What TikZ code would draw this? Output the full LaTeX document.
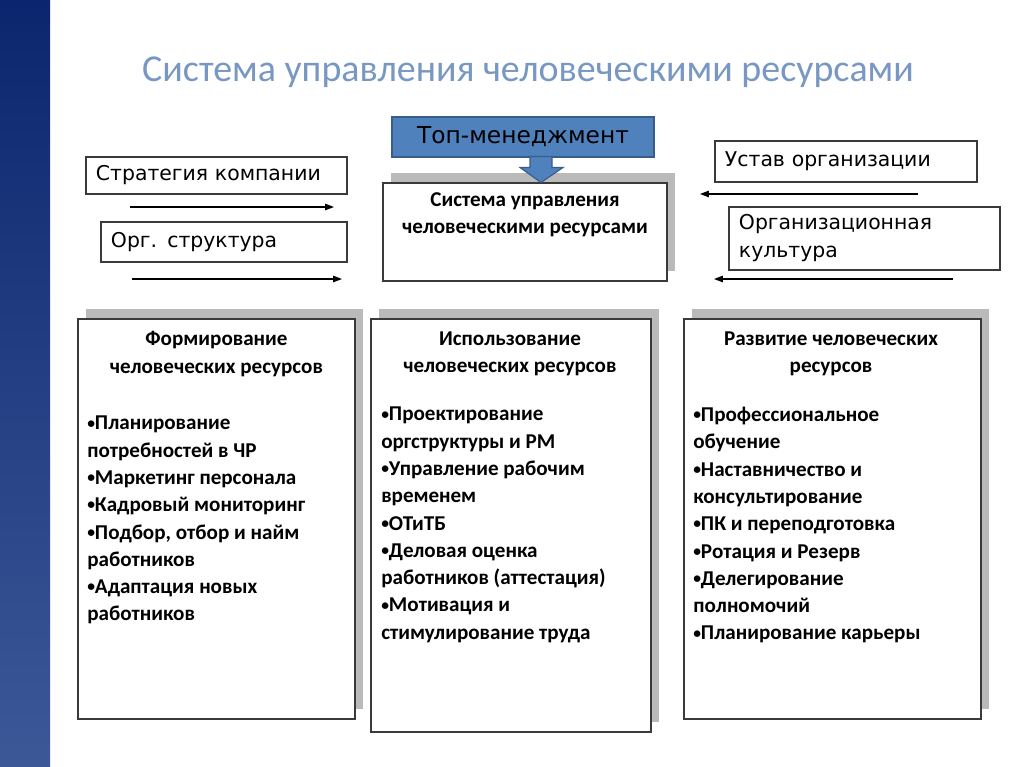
\documentclass[tikz,border=0pt]{standalone}
\usepackage{fontspec}
\setmainfont{Carlito}
\newfontfamily\dejavu{DejaVu Sans}
\usetikzlibrary{arrows.meta,shadows}
\definecolor{titleblue}{HTML}{7897C2}
\definecolor{topblue}{HTML}{4F81BD}
\definecolor{topedge}{HTML}{385D8A}
\definecolor{bartop}{HTML}{0B266E}
\definecolor{barbottom}{HTML}{3D5897}
\definecolor{boxedge}{HTML}{3A3A3A}
\newcommand\itemdot{{\fontsize{11}{11}\selectfont\raisebox{0.12em}{•}}}

\begin{document}
\begin{tikzpicture}[x=0.025cm,y=-0.025cm]
\tikzset{sidebox/.style={draw=boxedge, line width=0.8pt, inner xsep=0.25cm, inner ysep=0pt, align=left, font=\dejavu\fontsize{14.5}{19.9}\selectfont}}
\tikzset{shadebox/.style={draw=boxedge, line width=0.8pt, fill=white, inner sep=0pt, drop shadow={shadow xshift=0.2cm, shadow yshift=0.25cm, opacity=1, fill=black!27}}}
\tikzset{boldtext/.style={align=center, inner sep=0pt, font=\bfseries\fontsize{15}{19.4}\selectfont}}
\tikzset{listtext/.style={align=left, inner sep=0pt, anchor=north west, font=\bfseries\fontsize{15}{19.4}\selectfont}}
\tikzset{flow/.style={line width=0.8pt, -{Triangle[length=0.22cm,width=0.16cm]}}}
\useasboundingbox (0,0) rectangle (1024,767);
\fill[white] (0,0) rectangle (1024,767);
\shade[top color=bartop, bottom color=barbottom] (0,0) rectangle (50,767);
\node[text=titleblue, font=\fontsize{27}{32}\selectfont] (title) at (528,72) {Система управления человеческими ресурсами};
\node[draw=topedge, line width=1pt, fill=topblue, minimum width=6.55cm, minimum height=1cm, font=\dejavu\fontsize{16.6}{20}\selectfont] (top) at (523,137) {Топ-менеджмент};
\node[shadebox, minimum width=7.1cm, minimum height=2.45cm] (hrm) at (525,232) {};
\node[boldtext] (hrmtext) at (525,214.5) {Система управления\\человеческими ресурсами};
\coordinate (tip) at (541,182.5);
\draw[draw=topedge, fill=topblue, line width=0.8pt] (tip) -- ++(-21,-15) -- ++(10,0) -- ++(0,-11) -- ++(22,0) -- ++(0,11) -- ++(11,0) -- cycle;
\node[sidebox, text width=6.025cm, minimum height=0.925cm] (strat) at (216.5,175.5) {Стратегия компании};
\node[sidebox, text width=5.65cm, minimum height=1cm] (org) at (224,242) {Орг. структура};
\node[sidebox, text width=6.05cm, minimum height=1.025cm] (ustav) at (846,161.5) {Устав организации};
\node[sidebox, text width=6.275cm, minimum height=1.575cm] (kult) at (864.5,238.5) {Организационная\\культура};
\coordinate (s1) at (130,207);
\coordinate (e1) at (334,207);
\coordinate (s2) at (132,279);
\coordinate (e2) at (342,279);
\coordinate (s3) at (918,194);
\coordinate (e3) at (700,194);
\coordinate (s4) at (953,279);
\coordinate (e4) at (714,279);
\draw[flow] (s1) -- (e1);
\draw[flow] (s2) -- (e2);
\draw[flow] (s3) -- (e3);
\draw[flow] (s4) -- (e4);
\node[shadebox, minimum width=6.925cm, minimum height=10cm] (form) at (216.5,519) {};
\node[shadebox, minimum width=7cm, minimum height=10.325cm] (use) at (511,525.5) {};
\node[shadebox, minimum width=7.425cm, minimum height=10cm] (dev) at (832.5,519) {};
\node[boldtext] (formhead) at (216.5,354) {Формирование\\человеческих ресурсов};
\node[boldtext] (usehead) at (510,354) {Использование\\человеческих ресурсов};
\node[boldtext] (devhead) at (831,354) {Развитие человеческих\\ресурсов};
\node[listtext] (formlist) at (87,416) {\itemdot Планирование\\потребностей в ЧР\\\itemdot Маркетинг персонала\\\itemdot Кадровый мониторинг\\\itemdot Подбор, отбор и найм\\работников\\\itemdot Адаптация новых\\работников};
\node[listtext] (uselist) at (381,407) {\itemdot Проектирование\\оргструктуры и РМ\\\itemdot Управление рабочим\\временем\\\itemdot ОТиТБ\\\itemdot Деловая оценка\\работников (аттестация)\\\itemdot Мотивация и\\стимулирование труда};
\node[listtext] (devlist) at (693,407) {\itemdot Профессиональное\\обучение\\\itemdot Наставничество и\\консультирование\\\itemdot ПК и переподготовка\\\itemdot Ротация и Резерв\\\itemdot Делегирование\\полномочий\\\itemdot Планирование карьеры};
\end{tikzpicture}
\end{document}
